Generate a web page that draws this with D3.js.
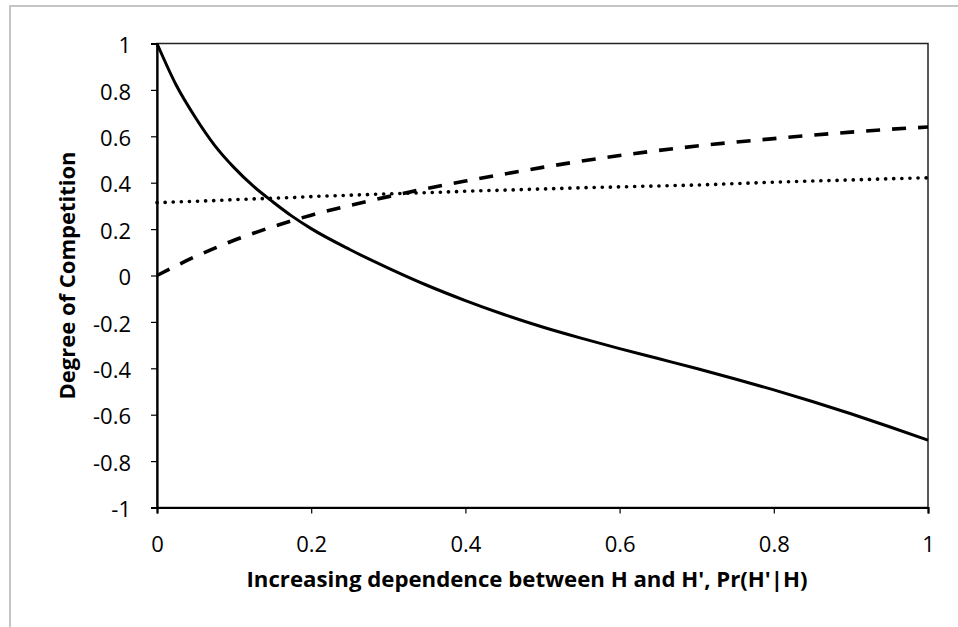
<!DOCTYPE html>
<html>
<head>
<meta charset="utf-8">
<script src="https://cdn.jsdelivr.net/npm/d3@7"></script>
<style>
    body { margin: 0; background: #fff; }
    svg { display: block; }
    text { font-family: "Open Sans", "DejaVu Sans", sans-serif; fill: #000; }
</style>
</head>
<body>
<svg id="chart" width="958" height="627"></svg>
<script>
// values
var xValues = [0, 0.025, 0.05, 0.075, 0.1, 0.125, 0.15, 0.175, 0.2, 0.25, 0.3, 0.35, 0.4, 0.45, 0.5,
    0.55, 0.6, 0.65, 0.7, 0.75, 0.8, 0.85, 0.9, 0.95, 1];

var solidValues = [1, 0.82, 0.68, 0.56, 0.465, 0.385, 0.318, 0.256, 0.202, 0.112, 0.032, -0.042, -0.108,
    -0.168, -0.222, -0.27, -0.315, -0.358, -0.401, -0.446, -0.493, -0.543, -0.596, -0.652, -0.71];

var dashedValues = [0, 0.042, 0.082, 0.118, 0.152, 0.182, 0.21, 0.236, 0.26, 0.302, 0.34, 0.375, 0.407,
    0.437, 0.466, 0.493, 0.517, 0.539, 0.558, 0.575, 0.59, 0.605, 0.618, 0.63, 0.64];

var dottedValues = [0.314, 0.317, 0.32, 0.323, 0.327, 0.33, 0.333, 0.336, 0.34, 0.346, 0.352, 0.357,
    0.363, 0.368, 0.373, 0.378, 0.382, 0.386, 0.39, 0.396, 0.402, 0.407, 0.412, 0.417, 0.421];

var xTicks = [0, 0.2, 0.4, 0.6, 0.8, 1];
var yTicks = [-1, -0.8, -0.6, -0.4, -0.2, 0, 0.2, 0.4, 0.6, 0.8, 1];

var xTitle = "Increasing dependence between H and H', Pr(H'|H)";
var yTitle = "Degree of Competition";

var svg = d3.select('#chart');
var plotL = 157, plotR = 928, plotT = 43.5, plotB = 507.5;

var x = d3.scaleLinear().domain([0, 1]).range([plotL, plotR]);
var y = d3.scaleLinear().domain([-1, 1]).range([plotB, plotT]);

// outer chart border (only the top and left show in the picture)
svg.append('rect')
    .attr('x', 10).attr('y', 6)
    .attr('width', 1000).attr('height', 700)
    .attr('fill', 'none')
    .attr('stroke', '#b3b3b3')
    .attr('stroke-width', 1.5);

// plot frame
svg.append('rect')
    .attr('x', plotL).attr('y', plotT)
    .attr('width', plotR - plotL).attr('height', plotB - plotT)
    .attr('fill', 'none')
    .attr('stroke', '#222')
    .attr('stroke-width', 1.5);

var xAxis = svg.append('g')
    .attr('transform', 'translate(0,' + plotB + ')')
    .call(d3.axisBottom(x).tickValues(xTicks).tickSize(6).tickFormat(d3.format('')));

var yAxis = svg.append('g')
    .attr('transform', 'translate(' + plotL + ',0)')
    .call(d3.axisLeft(y).tickValues(yTicks).tickSize(6).tickFormat(d3.format('')));

[xAxis, yAxis].forEach(function(g) {
    g.select('.domain').attr('stroke', '#000').attr('stroke-width', 2.2);
    g.selectAll('.tick line').attr('stroke', '#000').attr('stroke-width', 1.2);
    g.selectAll('.tick text').style('font-size', '22px').attr('fill', '#000');
});
xAxis.selectAll('.tick text').attr('y', 29);
yAxis.selectAll('.tick text').attr('x', -26).attr('dy', '0.42em');

// plain hyphens as in the reference
yAxis.selectAll('.tick text').text(function(d) { return String(d); });

// series lines
var series = [
    { values: solidValues, dash: null, width: 3, cap: 'butt' },
    { values: dashedValues, dash: '14,12', width: 3.6, cap: 'butt' },
    { values: dottedValues, dash: '0.1,8', width: 3.6, cap: 'round' }
];

series.forEach(function(s) {
    var line = d3.line()
        .x(function(d, i) { return x(xValues[i]); })
        .y(function(d) { return y(d); })
        .curve(d3.curveMonotoneX);
    svg.append('path')
        .datum(s.values)
        .attr('d', line)
        .attr('fill', 'none')
        .attr('stroke', '#000')
        .attr('stroke-width', s.width)
        .attr('stroke-linecap', s.cap)
        .attr('stroke-dasharray', s.dash);
});

// axis titles
svg.append('text')
    .attr('x', 527).attr('y', 587)
    .attr('text-anchor', 'middle')
    .attr('textLength', 561)
    .attr('lengthAdjust', 'spacingAndGlyphs')
    .style('font-size', '21px')
    .style('font-weight', 'bold')
    .text(xTitle);

svg.append('text')
    .attr('transform', 'translate(75,' + ((plotT + plotB) / 2) + ') rotate(-90)')
    .attr('text-anchor', 'middle')
    .attr('textLength', 248)
    .attr('lengthAdjust', 'spacingAndGlyphs')
    .style('font-size', '21px')
    .style('font-weight', 'bold')
    .text(yTitle);
</script>
</body>
</html>
